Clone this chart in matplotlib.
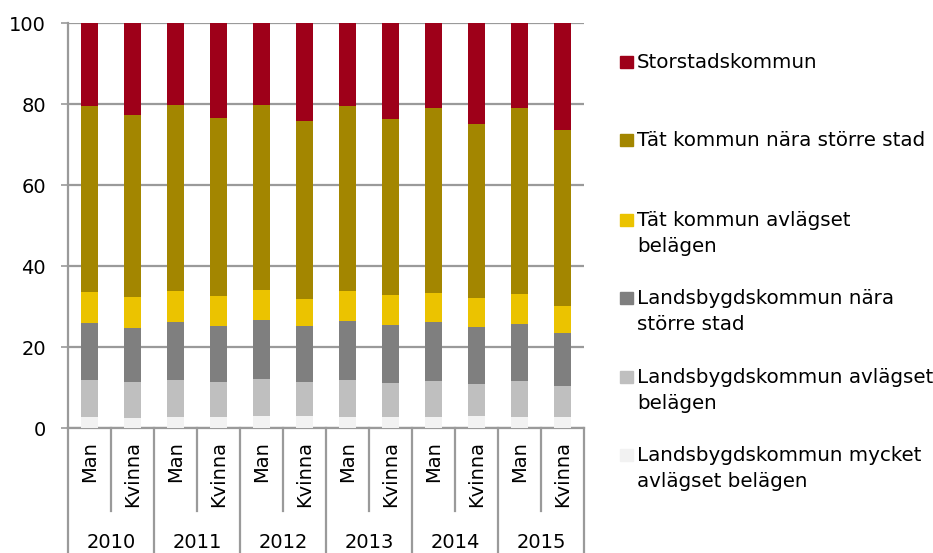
import matplotlib
matplotlib.use("Agg")
import matplotlib.pyplot as plt
from matplotlib.patches import Rectangle
from matplotlib.lines import Line2D
import numpy as np

years = ["2010", "2011", "2012", "2013", "2014", "2015"]
genders = ["Man", "Kvinna"]

series_names = [
    "Landsbygdskommun mycket\navlägset belägen",
    "Landsbygdskommun avlägset\nbelägen",
    "Landsbygdskommun nära\nstörre stad",
    "Tät kommun avlägset\nbelägen",
    "Tät kommun nära större stad",
    "Storstadskommun",
]
colors = ["#F2F2F2", "#BFBFBF", "#7F7F7F", "#EBC300", "#A38600", "#9E0019"]

mycket_avlagset = [2.7, 2.5, 2.9, 2.7, 3.0, 3.0, 2.9, 2.9, 2.8, 3.0, 2.8, 2.7]
avlagset = [9.2, 8.9, 9.0, 8.8, 9.1, 8.4, 9.0, 8.4, 9.0, 8.0, 9.0, 7.7]
landsbygd_nara = [14.2, 13.4, 14.4, 13.8, 14.6, 13.9, 14.6, 14.3, 14.4, 14.1, 14.0, 13.2]
tat_avlagset = [7.5, 7.5, 7.6, 7.3, 7.5, 6.7, 7.4, 7.3, 7.3, 7.0, 7.4, 6.5]
tat_nara = [46.1, 45.1, 46.0, 44.1, 45.7, 43.9, 45.7, 43.5, 45.6, 43.1, 46.0, 43.6]
storstad = [20.3, 22.6, 20.1, 23.3, 20.1, 24.1, 20.4, 23.6, 20.9, 24.8, 20.8, 26.3]

series = [mycket_avlagset, avlagset, landsbygd_nara, tat_avlagset, tat_nara, storstad]

W, H = 933, 553
fig = plt.figure(figsize=(W / 100, H / 100), dpi=100)
x0, x1, y0, y1 = 68, 584, 428.3, 23.3
ax = fig.add_axes([x0 / W, 1 - y0 / H, (x1 - x0) / W, (y0 - y1) / H])

FS = 14
LFS = 14.3
grid_c = "#9A9A9A"
n = len(years) * len(genders)
x = np.arange(n)
bottom = np.zeros(n)
for vals, col, name in zip(series, colors, series_names):
    v = np.array(vals)
    ax.bar(x, v, 0.40, bottom=bottom, color=col, label=name, zorder=3,
           edgecolor="none")
    bottom += v

ax.set_xlim(-0.5, n - 0.5)
ax.set_ylim(0, 100)
ax.set_yticks([0, 20, 40, 60, 80, 100])
ax.yaxis.grid(True, color=grid_c, linewidth=1.6, zorder=0)
ax.tick_params(axis="y", labelsize=FS, length=5, width=1.2, color=grid_c, pad=11)
ax.set_xticks([])
for s in ["top", "right"]:
    ax.spines[s].set_visible(False)
ax.spines["left"].set_color(grid_c)
ax.spines["left"].set_linewidth(1.6)
ax.spines["bottom"].set_color(grid_c)
ax.spines["bottom"].set_linewidth(1.6)


def fx(px):
    return px / W


def fy(py):
    return 1 - py / H


cat_w = (x1 - x0) / n
for i in range(n):
    cx = x0 + (i + 0.5) * cat_w
    fig.text(fx(cx), fy(441), genders[i % 2], rotation=90, ha="center", va="top",
             fontsize=FS)
for i in range(n + 1):
    sx = x0 + i * cat_w
    end = 553 if i % 2 == 0 else 511
    fig.add_artist(Line2D([fx(sx), fx(sx)], [fy(y0), fy(end)], color=grid_c,
                          linewidth=1.6, transform=fig.transFigure))
for j, yr in enumerate(years):
    cx = x0 + (2 * j + 1) * cat_w
    fig.text(fx(cx), fy(542), yr, ha="center", va="center", fontsize=FS)

# legend (manual)
leg_items = list(zip(series_names, colors))[::-1]
leg_y = [62, 140, 220, 298, 377, 455]
for (name, col), ly in zip(leg_items, leg_y):
    fig.add_artist(Rectangle((fx(620), fy(ly + 6)), 13 / W, 12 / H, color=col,
                             transform=fig.transFigure))
    fig.text(fx(637), fy(ly - 9), name, ha="left", va="top", fontsize=LFS,
             linespacing=1.45)

fig.savefig("out.png", dpi=100)
